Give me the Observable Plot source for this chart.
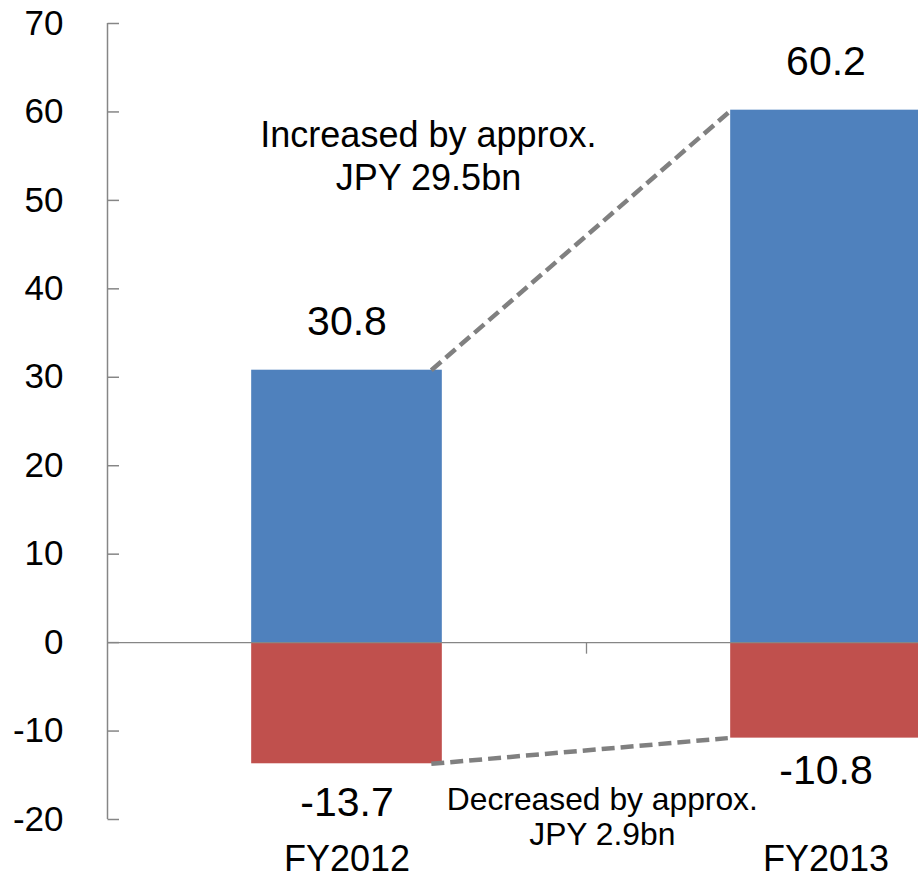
<!DOCTYPE html>
<html><head><meta charset="utf-8">
<script src="https://cdn.jsdelivr.net/npm/d3@7"></script>
<script src="https://cdn.jsdelivr.net/npm/@observablehq/plot@0.6"></script>
<style>
body{margin:0;background:#fff;}
#chart svg{display:block;overflow:hidden;}
</style>
</head><body><div id="chart"></div>
<script>
const categories = ["FY2012", "FY2013"];
const increases = [30.8, 60.2];
const decreases = [-13.7, -10.8];
const yTicks = [-20, -10, 0, 10, 20, 30, 40, 50, 60, 70];
const annotationTexts = ["Increased by approx.\nJPY 29.5bn", "Decreased by approx.\nJPY 2.9bn"];

const rows = categories.map((c, i) => ({cat: c, i, inc: increases[i], dec: decreases[i]}));
const barHalf = 0.199;
const links = [
  {x1: 0 + 0.176, y1: increases[0], x2: 1 - 0.198, y2: increases[1]},
  {x1: 0 + 0.176, y1: decreases[0], x2: 1 - 0.205, y2: decreases[1]}
];
const font = "'Liberation Sans', Arial, sans-serif";
const grey = "#868686";

const chart = Plot.plot({
  width: 918,
  height: 879,
  marginTop: 23,
  marginBottom: 60,
  marginLeft: 107,
  marginRight: 0,
  style: {fontFamily: font, color: "#000", background: "#fff", overflow: "hidden"},
  x: {domain: [-0.5, 1.5], range: [107, 1065], axis: null},
  y: {domain: [-20, 70], axis: null},
  marks: [
    Plot.rectY(rows, {x1: d => d.i - barHalf, x2: d => d.i + barHalf, y1: 0, y2: "inc", fill: "#4F81BD"}),
    Plot.rectY(rows, {x1: d => d.i - barHalf, x2: d => d.i + barHalf, y1: 0, y2: "dec", fill: "#C0504D"}),
    Plot.ruleY([0], {stroke: grey, strokeWidth: 1.3}),
    Plot.ruleX([-0.5], {stroke: grey, strokeWidth: 1.5}),
    Plot.link(yTicks, {x1: -0.5, x2: -0.5 + 0.024, y1: d => d, y2: d => d, stroke: grey, strokeWidth: 1.5}),
    Plot.link([0.5, 1.5], {x1: d => d, x2: d => d, y1: 0, y2: -1.25, stroke: grey, strokeWidth: 1.3}),
    Plot.axisY({ticks: yTicks, tickSize: 0, tickPadding: 44, fontSize: 35, tickFormat: d => `${d}`, label: null, stroke: "none", fill: "#000"}),
    Plot.link(links, {x1: "x1", y1: "y1", x2: "x2", y2: "y2", stroke: "#808080", strokeWidth: 4.5, strokeDasharray: "13,6"}),
    Plot.text(rows, {x: "i", y: "inc", text: d => `${d.inc}`, dy: -48.5, fontSize: 41, fill: "#000"}),
    Plot.text(rows.filter(d => d.i === 0), {x: "i", y: "dec", text: d => `${d.dec}`, dy: 38.6, fontSize: 41, fill: "#000"}),
    Plot.text(rows.filter(d => d.i === 1), {x: "i", y: "dec", text: d => `${d.dec}`, dy: 32.3, fontSize: 41, fill: "#000"}),
    Plot.text(rows, {x: "i", frameAnchor: "bottom", lineAnchor: "middle", text: "cat", dy: 40, fontSize: 36, fill: "#000"}),
    Plot.text([annotationTexts[0]], {x: 0.17, y: 59.44, text: d => d, lineAnchor: "top", lineHeight: 1.19, fontSize: 36, fill: "#000"}),
    Plot.text([annotationTexts[1]], {x: 0.533, y: -16.09, text: d => d, lineAnchor: "top", lineHeight: 1.1, fontSize: 31.8, fill: "#000"})
  ]
});
document.getElementById("chart").appendChild(chart);
</script>
</body></html>
